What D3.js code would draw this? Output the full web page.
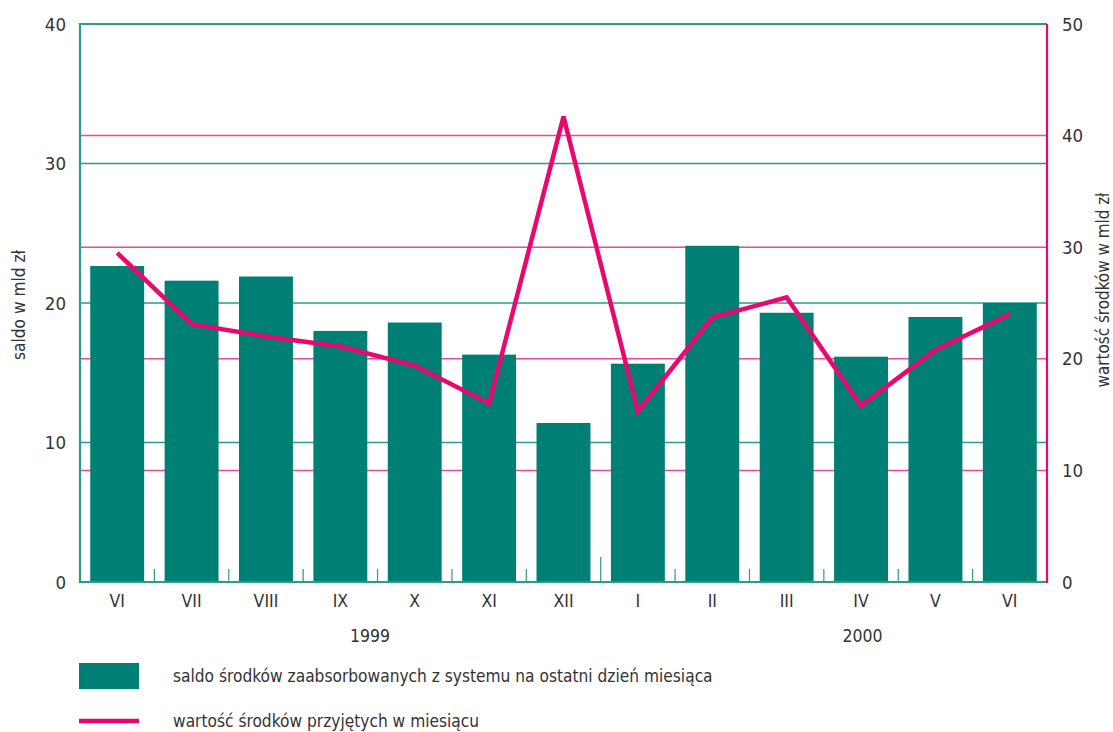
<!DOCTYPE html>
<html><head><meta charset="utf-8">
<script src="https://cdn.jsdelivr.net/npm/d3@7"></script>
<style>body{margin:0;background:#fff}svg{display:block}text{font-family:"DejaVu Sans Condensed","DejaVu Sans",sans-serif;fill:#333}</style>
</head><body><svg id="c" width="1113" height="732"></svg>
<script>
const months = ["VI","VII","VIII","IX","X","XI","XII","I","II","III","IV","V","VI"];
const saldo = [22.65, 21.6, 21.9, 18.0, 18.6, 16.3, 11.4, 15.65, 24.1, 19.3, 16.15, 19.0, 20.0];
const wartosc = [29.5, 23.1, 22.0, 21.1, 19.4, 16.0, 41.7, 15.3, 23.7, 25.5, 15.8, 20.8, 24.0];
const leftTicks = [0, 10, 20, 30, 40];
const rightTicks = [0, 10, 20, 30, 40, 50];
const years = [{label:"1999", at:3.4}, {label:"2000", at:10.02}];
const legendLabels = ["saldo środków zaabsorbowanych z systemu na ostatni dzień miesiąca", "wartość środków przyjętych w miesiącu"];

const TEAL = "#008075", PINK = "#e8086f", TEALG = "#2b9a8f", PINKG = "#ea4d8e";
const L = 80, R = 1047, T = 24, B = 582;
const svg = d3.select("#c");
const x = d3.scaleBand().domain(months.map((m,i)=>i)).range([L, R]).paddingInner(0.275).paddingOuter(0.1375);
const yL = d3.scaleLinear().domain([0, 40]).range([B, T]);
const yR = d3.scaleLinear().domain([0, 50]).range([B, T]);
const cx = i => x(Math.floor(i)) + x.bandwidth()/2 + (i - Math.floor(i)) * x.step();
function fit(sel, base, target) {
  const w = sel.node().getComputedTextLength();
  if (w > 0) sel.attr("font-size", base * target / w);
}

// gridlines
svg.append("g").selectAll("line").data(rightTicks.filter(v=>v>0&&v<50)).join("line")
  .attr("x1", L).attr("x2", R).attr("y1", d=>yR(d)).attr("y2", d=>yR(d))
  .attr("stroke", PINKG).attr("stroke-width", 1.5);
svg.append("g").selectAll("line").data(leftTicks.filter(v=>v>0)).join("line")
  .attr("x1", L).attr("x2", R).attr("y1", d=>yL(d)).attr("y2", d=>yL(d))
  .attr("stroke", TEALG).attr("stroke-width", d=>d===40?2:1.5);

// bars
svg.append("g").selectAll("rect").data(saldo).join("rect")
  .attr("x", (d,i)=>x(i)).attr("width", x.bandwidth())
  .attr("y", d=>yL(d)).attr("height", d=>B - yL(d)).attr("fill", TEAL);

// separator ticks
const step = x.step();
svg.append("g").selectAll("line").data(d3.range(1, months.length)).join("line")
  .attr("x1", i=>L + i*step).attr("x2", i=>L + i*step)
  .attr("y1", B).attr("y2", i=>i===7 ? B-25 : B-13)
  .attr("stroke", TEALG).attr("stroke-width", 1.2);

// axes lines
svg.append("line").attr("x1", L).attr("x2", L).attr("y1", T-1).attr("y2", B+1).attr("stroke", TEALG).attr("stroke-width", 2.2);
svg.append("line").attr("x1", L).attr("x2", R).attr("y1", B).attr("y2", B).attr("stroke", TEALG).attr("stroke-width", 2.2);
svg.append("line").attr("x1", R).attr("x2", R).attr("y1", T).attr("y2", B+1).attr("stroke", PINK).attr("stroke-width", 2.2);

// line series
const line = d3.line().x((d,i)=>x(i)+x.bandwidth()/2).y(d=>yR(d));
svg.append("path").datum(wartosc).attr("d", line).attr("fill","none")
  .attr("stroke", PINK).attr("stroke-width", 4.5).attr("stroke-linejoin","miter");

// tick labels
svg.append("g").selectAll("text").data(leftTicks).join("text")
  .attr("x", 66).attr("y", d=>yL(d)).attr("dy","0.36em").attr("text-anchor","end")
  .attr("font-size", 18.5).text(d=>d);
svg.append("g").selectAll("text").data(rightTicks).join("text")
  .attr("x", 1062).attr("y", d=>yR(d)).attr("dy","0.36em").attr("text-anchor","start")
  .attr("font-size", 18.5).text(d=>d);
svg.append("g").selectAll("text").data(months).join("text")
  .attr("x", (d,i)=>x(i)+x.bandwidth()/2).attr("y", 601).attr("dy","0.36em").attr("text-anchor","middle")
  .attr("font-size", 17.5).text(d=>d);
svg.append("g").selectAll("text").data(years).join("text")
  .attr("x", d=>cx(d.at)).attr("y", 636).attr("dy","0.36em").attr("text-anchor","middle")
  .attr("font-size", 17.5).text(d=>d.label);

// axis titles
const t1 = svg.append("text").attr("transform","translate(19,305) rotate(-90)").attr("text-anchor","middle")
  .attr("dy","0.35em").attr("font-size", 16).text("saldo w mld zł");
fit(t1, 16, 110);
const t2 = svg.append("text").attr("transform","translate(1103,290) rotate(-90)").attr("text-anchor","middle")
  .attr("dy","0.35em").attr("font-size", 16).text("wartość środków w mld zł");
fit(t2, 16, 195);

// legend
svg.append("rect").attr("x", 79).attr("y", 663).attr("width", 60).attr("height", 26).attr("fill", TEAL);
svg.append("line").attr("x1", 79).attr("x2", 139).attr("y1", 721).attr("y2", 721).attr("stroke", PINK).attr("stroke-width", 4.5);
const lt = svg.append("g").selectAll("text").data(legendLabels).join("text")
  .attr("x", 173).attr("y", (d,i)=>676 + i*45).attr("dy","0.35em")
  .attr("font-size", 16).text(d=>d);
const w0 = lt.nodes()[0].getComputedTextLength();
if (w0 > 0) lt.attr("font-size", 16 * 540 / w0);
</script></body></html>
